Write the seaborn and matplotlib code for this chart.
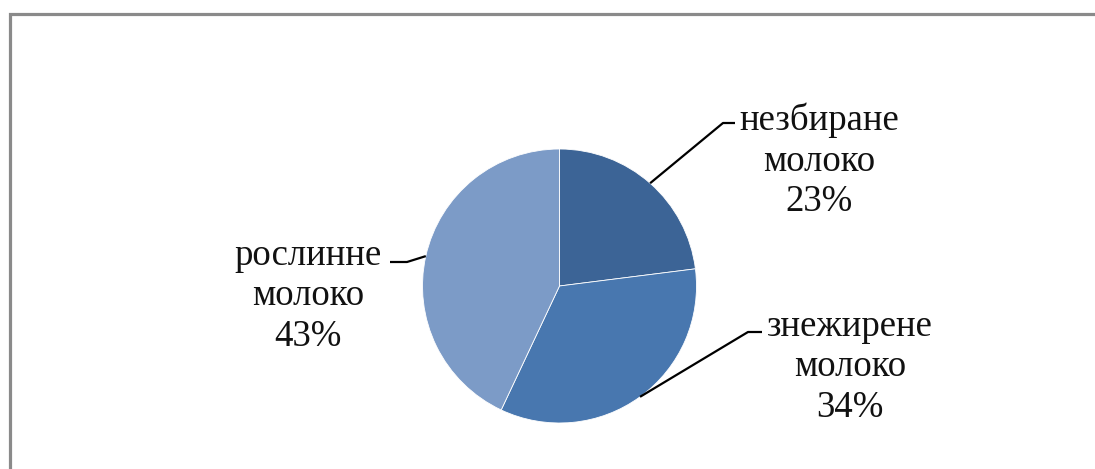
import matplotlib
matplotlib.use("Agg")
import matplotlib.pyplot as plt
import seaborn as sns
import numpy as np

# ---- data ----
categories = ["незбиране\nмолоко", "знежирене\nмолоко", "рослинне\nмолоко"]
values = [23, 34, 43]
colors = ["#3C6496", "#4877AF", "#7C9BC7"]

sns.set_theme(style="white")
plt.rcParams['font.family'] = ['Liberation Serif', 'DejaVu Serif']

W, H = 1095, 469
fig = plt.figure(figsize=(W / 100, H / 100), dpi=100)
ax = fig.add_axes([0, 0, 1, 1])

cx, cy, r = 559.5, 183, 137
wedges, _ = ax.pie(values, colors=colors, startangle=90, counterclock=False,
                   center=(cx, cy), radius=r, frame=True,
                   wedgeprops=dict(edgecolor='white', linewidth=0.6))
ax.set_xlim(0, W)
ax.set_ylim(0, H)
ax.set_aspect('equal')
ax.axis('off')

# frame of the (cropped) chart area: only top and left edges are visible
ax.plot([10, 10, W + 10], [-10, 455.5, 455.5], color='#8a8a8a',
        linewidth=2.3, solid_joinstyle='miter')

# label layout: elbow point, end point of leader, text centre
layout = [
    dict(elbow=(723, 346), end=(735, 346), text=(819, 308)),
    dict(elbow=(748, 137), end=(762, 137), text=(850, 102)),
    dict(elbow=(407, 207), end=(390, 207), text=(308, 173)),
]

for w, cat, v, lay in zip(wedges, categories, values, layout):
    mid = np.deg2rad((w.theta1 + w.theta2) / 2)
    ax_pt = (cx + r * np.cos(mid), cy + r * np.sin(mid))
    xs = [ax_pt[0], lay['elbow'][0], lay['end'][0]]
    ys = [ax_pt[1], lay['elbow'][1], lay['end'][1]]
    ax.plot(xs, ys, color='black', linewidth=1.6, solid_capstyle='butt')
    ax.text(lay['text'][0], lay['text'][1], f"{cat}\n{v}%", ha='center',
            va='center', fontsize=26.5, linespacing=1.22, color='#111111')

fig.savefig("out.png", dpi=100, facecolor='white')
